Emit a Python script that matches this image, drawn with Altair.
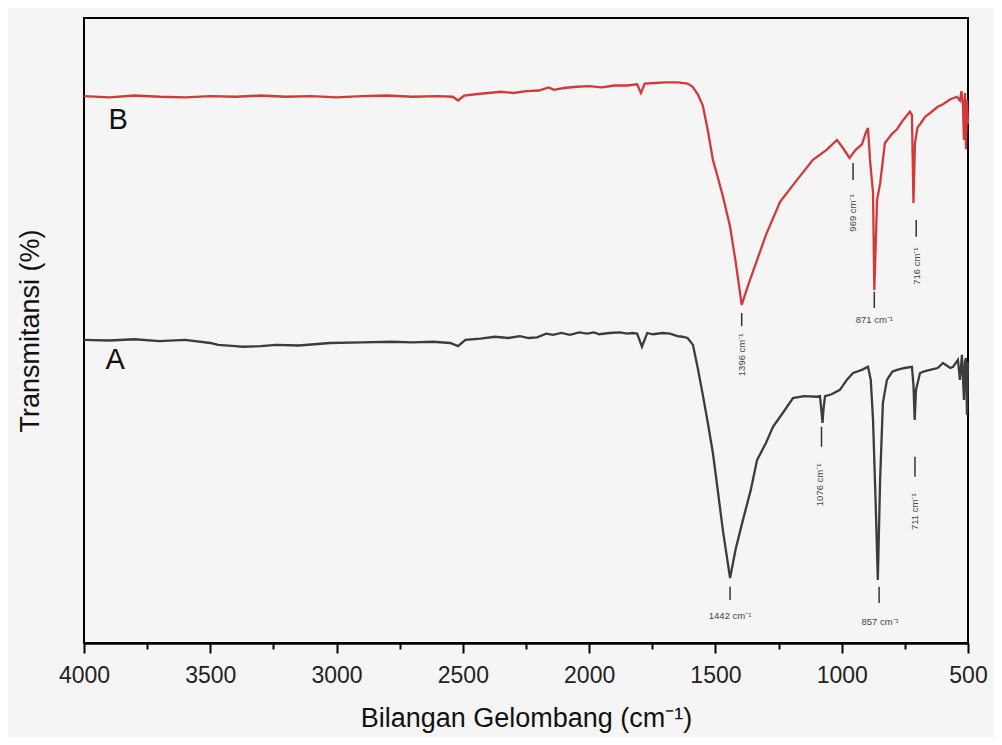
import altair as alt
import pandas as pd

# Spectrum B (red)
B_wn = [4000, 3900, 3800, 3700, 3600, 3500, 3400, 3300, 3200, 3100, 3000, 2900, 2800, 2700, 2600, 2540,
        2519, 2495, 2450, 2400, 2350, 2300, 2250, 2200, 2160, 2140, 2100, 2050, 2000, 1950, 1900, 1850,
        1810, 1795, 1780, 1740, 1700, 1650, 1610, 1590, 1570, 1550, 1530, 1510, 1490, 1470, 1442, 1420,
        1396, 1370, 1335, 1300, 1244, 1177, 1114, 1060, 1019, 995, 969, 945, 920, 905, 896, 888, 876,
        871, 866, 860, 848, 829, 800, 781, 760, 730, 722, 716, 710, 700, 690, 670, 650, 620, 599, 570,
        544, 532, 526, 520, 516, 512, 508, 504, 500]
B_T = [87.5, 87.3, 87.6, 87.4, 87.3, 87.5, 87.4, 87.6, 87.4, 87.5, 87.3, 87.5, 87.6, 87.4, 87.5, 87.4,
       86.8, 87.6, 87.8, 88.0, 88.2, 88.0, 88.3, 88.4, 88.9, 88.5, 88.8, 89.0, 89.1, 88.9, 89.2, 89.2,
       89.4, 88.0, 89.5, 89.6, 89.7, 89.7, 89.5, 89.0, 87.8, 86.0, 82.0, 77.3, 74.4, 71.4, 66.6, 61.0,
       54.1, 57.3, 61.3, 65.3, 70.6, 74.1, 77.3, 78.9, 80.5, 79.2, 77.6, 78.9, 79.8, 81.6, 82.4, 77.3, 72.0,
       56.5, 62.9, 70.9, 73.5, 80.0, 81.5, 82.2, 83.5, 85.0, 84.5, 70.4, 80.0, 82.5, 83.0, 84.2, 84.8, 85.8,
       86.2, 87.0, 87.4, 86.8, 88.3, 86.0, 80.5, 88.0, 79.0, 86.9, 83.0]

# Spectrum A (dark grey)
A_wn = [4000, 3900, 3800, 3700, 3600, 3500, 3469, 3400, 3374, 3300, 3240, 3150, 3026, 2900, 2781, 2700,
        2618, 2550, 2519, 2490, 2430, 2373, 2320, 2274, 2240, 2206, 2170, 2143, 2110, 2076, 2040, 2008,
        1980, 1961, 1920, 1878, 1850, 1830, 1810, 1791, 1770, 1747, 1710, 1680, 1650, 1632, 1610, 1589,
        1570, 1550, 1530, 1510, 1490, 1470, 1442, 1420, 1391, 1360, 1335, 1300, 1272, 1230, 1193, 1150,
        1098, 1086, 1080, 1076, 1072, 1066, 1040, 1007, 980, 955, 920, 896, 885, 876, 866, 857, 848, 837,
        821, 800, 781, 750, 722, 716, 711, 706, 690, 670, 650, 620, 599, 570, 559, 540, 532, 524, 516,
        512, 508, 504, 500]
A_T = [48.5, 48.4, 48.6, 48.3, 48.5, 48.0, 47.7, 47.5, 47.4, 47.5, 47.7, 47.6, 48.0, 48.1, 48.2, 48.1,
       48.2, 48.0, 47.5, 48.5, 48.7, 49.0, 48.8, 49.1, 48.8, 48.9, 49.5, 49.3, 49.6, 49.3, 49.7, 49.5,
       49.7, 49.4, 49.6, 49.7, 49.5, 49.6, 49.5, 47.4, 49.6, 49.4, 49.6, 49.5, 49.1, 49.0, 48.8, 47.7,
       44.0, 39.7, 35.2, 30.4, 24.2, 17.9, 10.4, 15.0, 19.7, 24.5, 29.3, 32.0, 34.6, 37.0, 39.2, 39.5,
       39.4, 39.5, 37.0, 35.2, 37.5, 39.5, 39.8, 40.5, 42.1, 43.2, 43.7, 44.2, 42.1, 35.7, 22.9, 10.1, 26.1,
       38.4, 42.1, 43.4, 43.7, 44.0, 44.2, 41.3, 35.7, 40.5, 43.2, 43.5, 43.7, 44.0, 44.8, 44.0, 44.2,
       45.3, 42.1, 46.1, 38.9, 45.0, 45.6, 36.5, 45.0]

# Peak markers: wavenumber, top, bottom
mark_wn = [1396, 955, 871, 705, 1442, 1080, 852, 710]
mark_t1 = [52.8, 76.8, 56.2, 67.7, 9.0, 34.6, 9.0, 29.8]
mark_t2 = [50.7, 74.1, 53.6, 65.0, 6.9, 31.4, 6.4, 26.6]

# Peak labels
lab_text = ["1396 cm⁻¹", "969 cm⁻¹", "871 cm⁻¹", "716 cm⁻¹", "1442 cm⁻¹", "1076 cm⁻¹", "857 cm⁻¹", "711 cm⁻¹"]
lab_wn = [1396, 955, 871, 702, 1442, 1086, 848, 710]
lab_T = [46.1, 68.8, 51.7, 60.3, 4.3, 25.3, 3.4, 21.0]
lab_angle = [270, 270, 0, 270, 0, 270, 0, 270]

# Series names
ser_text = ["B", "A"]
ser_wn = [3865, 3877]
ser_T = [83.7, 45.3]

tick_vals = list(range(500, 4001, 250))

dfB = pd.DataFrame({"wn": B_wn, "T": B_T})
dfA = pd.DataFrame({"wn": A_wn, "T": A_T})
dfM = pd.DataFrame({"wn": mark_wn, "t1": mark_t1, "t2": mark_t2})
dfL = pd.DataFrame({"txt": lab_text, "wn": lab_wn, "T": lab_T, "ang": lab_angle})
dfS = pd.DataFrame({"txt": ser_text, "wn": ser_wn, "T": ser_T})

xscale = alt.Scale(domain=[500, 4000], reverse=True, nice=False, zero=False)
yscale = alt.Scale(domain=[0, 100], nice=False, zero=False)

xaxis = alt.Axis(
    values=tick_vals,
    format="d",
    labelExpr="datum.value % 500 === 0 ? datum.label : ''",
    tickSize={"condition": {"test": "datum.value % 500 === 0", "value": 10}, "value": 6},
    tickWidth=2,
    tickColor="black",
    domainColor="black",
    domainWidth=2.5,
    labelFontSize=23,
    labelFont="Liberation Sans",
    labelColor="#222222",
    labelPadding=11,
    title="Bilangan Gelombang (cm⁻¹)",
    titleFontSize=27,
    titleFont="Liberation Sans",
    titleFontWeight="normal",
    titleColor="#111111",
    titlePadding=18,
    grid=False,
    labelFlush=False,
)
yaxis = alt.Axis(
    labels=False, ticks=False, domain=False, grid=False,
    title="Transmitansi (%)",
    titleFontSize=27,
    titleFont="Liberation Sans",
    titleFontWeight="normal",
    titleColor="#111111",
    titlePadding=40,
)

x = alt.X("wn:Q", scale=xscale, axis=xaxis)
y = alt.Y("T:Q", scale=yscale, axis=yaxis)

lineB = alt.Chart(dfB).mark_line(color="#d23a3a", strokeWidth=2.3).encode(x=x, y=y, order="wn:Q")
lineA = alt.Chart(dfA).mark_line(color="#3c3c3c", strokeWidth=2.3).encode(x=x, y=y, order="wn:Q")

rules = alt.Chart(dfM).mark_rule(color="#333333", strokeWidth=1.5).encode(
    x=alt.X("wn:Q", scale=xscale), y=alt.Y("t1:Q", scale=yscale), y2="t2:Q"
)

labels_v = alt.Chart(dfL[dfL["ang"] == 270]).mark_text(
    fontSize=9.5, font="Liberation Sans", color="#444444", angle=270, align="center", baseline="middle"
).encode(x=alt.X("wn:Q", scale=xscale), y=alt.Y("T:Q", scale=yscale), text="txt:N")

labels_h = alt.Chart(dfL[dfL["ang"] == 0]).mark_text(
    fontSize=9.5, font="Liberation Sans", color="#444444", align="center", baseline="middle"
).encode(x=alt.X("wn:Q", scale=xscale), y=alt.Y("T:Q", scale=yscale), text="txt:N")

series = alt.Chart(dfS).mark_text(
    fontSize=29, font="Liberation Sans", color="#111111", align="center", baseline="middle"
).encode(x=alt.X("wn:Q", scale=xscale), y=alt.Y("T:Q", scale=yscale), text="txt:N")

chart = alt.layer(lineB, lineA, rules, labels_v, labels_h, series).properties(
    width=884, height=625,
    autosize=alt.AutoSizeParams(type="none"),
    padding={"left": 76, "top": 10, "right": 26, "bottom": 94},
    background="#f5f5f5",
).configure_view(stroke="black", strokeWidth=2)

chart.save("out.html", embed_options={"renderer": "svg", "actions": False})
